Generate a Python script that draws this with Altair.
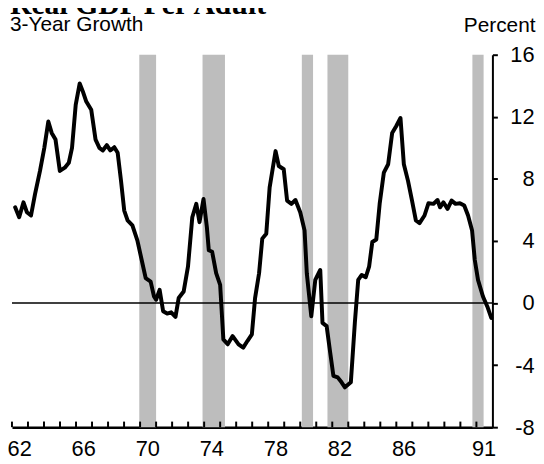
import altair as alt
import pandas as pd

# ---- data ----
years = [1962.2, 1962.45, 1962.72, 1962.93, 1963.19, 1963.44, 1963.75, 1964.02, 1964.27, 1964.48,
         1964.72, 1964.99, 1965.3, 1965.55, 1965.75, 1965.98, 1966.23, 1966.43, 1966.64, 1966.95,
         1967.22, 1967.46, 1967.67, 1967.92, 1968.14, 1968.39, 1968.6, 1968.81, 1969.01, 1969.22,
         1969.52, 1969.83, 1970.1, 1970.35, 1970.66, 1970.87, 1971.0, 1971.22, 1971.44, 1971.69,
         1971.94, 1972.21, 1972.41, 1972.72, 1972.99, 1973.26, 1973.51, 1973.71, 1973.96, 1974.17,
         1974.29, 1974.5, 1974.75, 1975.0, 1975.2, 1975.47, 1975.78, 1976.15, 1976.44, 1976.7,
         1976.98, 1977.18, 1977.43, 1977.63, 1977.88, 1978.09, 1978.29, 1978.46, 1978.66, 1978.97,
         1979.18, 1979.45, 1979.7, 1980.0, 1980.27, 1980.41, 1980.69, 1980.94, 1981.25, 1981.39,
         1981.65, 1981.87, 1982.07, 1982.34, 1982.58, 1982.79, 1983.16, 1983.41, 1983.62, 1983.84,
         1984.09, 1984.3, 1984.5, 1984.75, 1984.96, 1985.22, 1985.49, 1985.74, 1985.99, 1986.26,
         1986.47, 1986.73, 1986.98, 1987.22, 1987.45, 1987.76, 1988.01, 1988.32, 1988.57, 1988.73,
         1988.94, 1989.2, 1989.45, 1989.7, 1989.97, 1990.24, 1990.48, 1990.73, 1990.9, 1991.1,
         1991.41, 1991.68, 1991.93]
growth = [6.17, 5.53, 6.49, 5.85, 5.64, 7.02, 8.51, 10.0, 11.7, 10.96,
          10.53, 8.51, 8.72, 9.04, 10.0, 12.77, 14.15, 13.62, 12.98, 12.45,
          10.53, 10.0, 9.83, 10.17, 9.83, 10.04, 9.68, 7.87, 5.96, 5.32,
          5.0, 4.04, 2.77, 1.6, 1.38, 0.42, 0.21, 0.85, -0.53, -0.68,
          -0.6, -0.89, 0.32, 0.74, 2.34, 5.53, 6.39, 5.21, 6.7, 4.89,
          3.4, 3.3, 1.92, 1.17, -2.34, -2.66, -2.13, -2.66, -2.87, -2.45,
          -2.02, 0.32, 1.92, 4.15, 4.47, 7.45, 8.72, 9.79, 8.83, 8.62,
          6.6, 6.39, 6.64, 5.85, 4.68, 1.92, -0.86, 1.49, 2.13, -1.28,
          -1.49, -3.19, -4.69, -4.79, -5.11, -5.43, -5.11, -1.28, 1.49, 1.81,
          1.66, 2.34, 3.93, 4.09, 6.39, 8.4, 8.94, 10.96, 11.39, 11.92,
          8.94, 7.87, 6.6, 5.32, 5.15, 5.64, 6.43, 6.39, 6.64, 6.17,
          6.49, 6.07, 6.6, 6.39, 6.43, 6.28, 5.64, 4.68, 2.77, 1.49,
          0.42, -0.22, -0.96]

recession_start = [1969.95, 1973.9, 1980.1, 1981.7, 1990.75]
recession_end = [1971.0, 1975.3, 1980.8, 1983.0, 1991.45]

y_ticks = [-8, -4, 0, 4, 8, 12, 16]
x_label_years = [1962, 1966, 1970, 1974, 1978, 1982, 1986, 1991]
x_tick_years = list(range(1962, 1992))

title_text = "Real GDP Per Adult"
subtitle_text = "3-Year Growth"
unit_text = "Percent"

# ---- layout / style ----
W, H = 485, 376
Y_MIN, Y_MAX = -8, 16
TICK_LEN = 0.36  # year-tick length in percentage points (~5-6 px)
SANS = "Liberation Sans, Arial, Helvetica, sans-serif"
SERIF = "Liberation Serif, Times New Roman, serif"

xs = alt.Scale(domain=[1962, 1992], nice=False, zero=False)
ys = alt.Scale(domain=[Y_MIN, Y_MAX], nice=False, zero=False)

line_df = pd.DataFrame({"year": years, "growth": growth})
rec_df = pd.DataFrame({"start": recession_start, "end": recession_end})
zero_df = pd.DataFrame({"v": [0]})
tick_df = pd.DataFrame({"t": [float(v) for v in x_tick_years],
                        "y0": [float(Y_MIN)] * len(x_tick_years),
                        "y1": [float(Y_MIN + TICK_LEN)] * len(x_tick_years)})
label_pos = [y + 0.45 for y in x_label_years]

shade = alt.Chart(rec_df).mark_rect(color="#bdbdbd").encode(
    x=alt.X("start:Q", scale=xs, axis=None),
    x2="end:Q",
)

zero = alt.Chart(zero_df).mark_rule(color="black", strokeWidth=1.6).encode(
    y=alt.Y("v:Q", scale=ys, axis=None)
)

bottom_axis = alt.Axis(
    orient="bottom", values=label_pos,
    labelExpr="slice('' + floor(datum.value), 2)",
    ticks=False, domain=True, domainColor="black", domainWidth=2.5,
    labelFont=SANS, labelFontSize=22, labelColor="black", labelPadding=12,
    labelAngle=0, grid=False, title=None, labelFlush=False,
    labelOverlap=False, labelBound=False,
)

right_axis = alt.Axis(
    orient="right", values=y_ticks, labelExpr="'' + datum.value",
    tickSize=5, tickWidth=2, tickColor="black",
    domainColor="black", domainWidth=2,
    labelAlign="right", labelBaseline="middle", labelPadding=37,
    labelFont=SANS, labelFontSize=22, labelColor="black",
    grid=False, title=unit_text, titleAngle=0, titleAlign="right",
    titleBaseline="alphabetic", titleX=43, titleY=-23,
    titleFont=SANS, titleFontSize=21, titleFontWeight="normal", titleColor="black",
    labelFlush=False, labelOverlap=False, labelBound=False,
)

line = alt.Chart(line_df).mark_line(
    color="black", strokeWidth=4, strokeJoin="round", strokeCap="round"
).encode(
    x=alt.X("year:Q", scale=xs, axis=bottom_axis),
    y=alt.Y("growth:Q", scale=ys, axis=right_axis),
)

# year ticks pointing up from the bottom axis
ticks = alt.Chart(tick_df).mark_rule(color="black", strokeWidth=2).encode(
    x=alt.X("t:Q", scale=xs, axis=None),
    y=alt.Y("y0:Q", scale=ys, axis=None),
    y2="y1:Q",
)

title = alt.Chart(alt.Data(values=[{"t": title_text}])).mark_text(
    align="left", baseline="alphabetic", font=SERIF, fontSize=30,
    fontWeight="bold", color="black"
).encode(text="t:N", x=alt.value(-2), y=alt.value(-41))

subtitle = alt.Chart(alt.Data(values=[{"t": subtitle_text}])).mark_text(
    align="left", baseline="alphabetic", font=SANS, fontSize=21, color="black"
).encode(text="t:N", x=alt.value(-2), y=alt.value(-24))

chart = alt.layer(shade, zero, ticks, line, title, subtitle).resolve_axis(
    x="independent", y="independent"
).properties(
    width=W, height=H,
    padding={"left": 4, "top": 45, "right": 44, "bottom": 34},
    autosize=alt.AutoSizeParams(type="none"),
    background="white",
).configure_view(stroke=None)

chart.save("out.html", embed_options={"renderer": "svg", "actions": False})
